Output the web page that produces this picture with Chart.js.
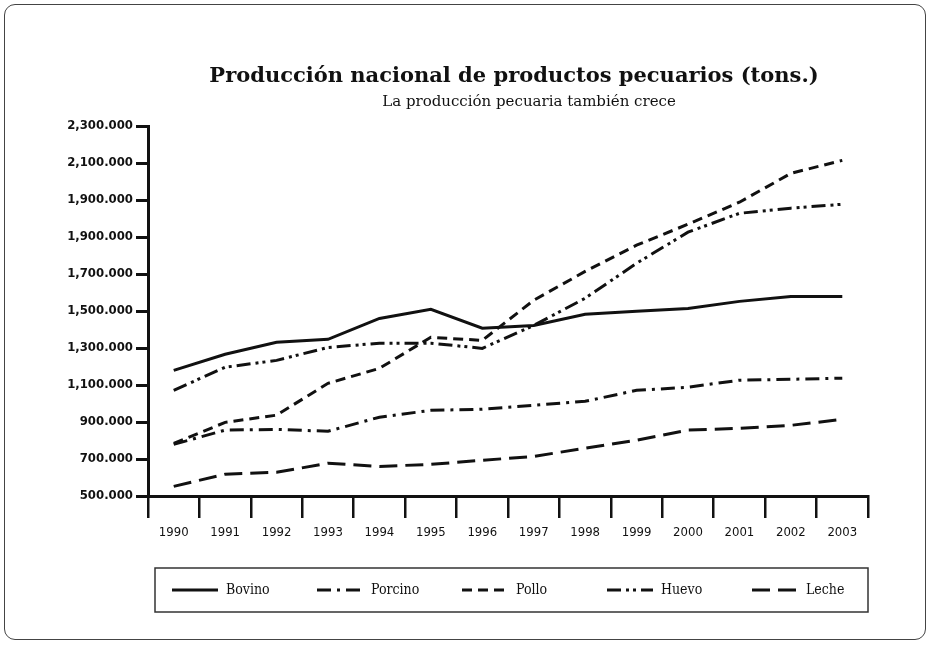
<!DOCTYPE html>
<html>
<head>
<meta charset="utf-8">
<script src="https://cdn.jsdelivr.net/npm/chart.js@4/dist/chart.umd.min.js"></script>
<style>
  html, body { margin: 0; padding: 0; background: #fff; }
  #frame { position: absolute; left: 4px; top: 4px; width: 920px; height: 634px; border: 1.5px solid #444; border-radius: 11px; }
  #wrap { position: absolute; left: 0; top: 0; width: 930px; height: 647px; }
</style>
</head>
<body>
<div id="frame"></div>
<div id="wrap"><canvas id="canvas" width="930" height="647"></canvas></div>
<script>
'use strict';

var titleText = 'Producción nacional de productos pecuarios (tons.)';
var subtitleText = 'La producción pecuaria también crece';

// años (eje x)
var years = ['1990', '1991', '1992', '1993', '1994', '1995', '1996', '1997', '1998', '1999', '2000', '2001', '2002', '2003'];

// etiquetas del eje y tal como aparecen en el original (de abajo hacia arriba, con el 1,900 repetido)
var yTickLabels = ['500.000', '700.000', '900.000', '1,100.000', '1,300.000', '1,500.000', '1,700.000', '1,900.000', '1,900.000', '2,100.000', '2,300.000'];

// miles de toneladas (en la escala de las marcas, 200 por marca)
var bovino  = [1179, 1266, 1331, 1347, 1460, 1509, 1407, 1422, 1482, 1498, 1514, 1552, 1579, 1579];
var porcino = [779, 856, 860, 850, 926, 963, 969, 990, 1012, 1071, 1088, 1126, 1131, 1137];
var pollo   = [784, 898, 937, 1109, 1190, 1358, 1341, 1558, 1714, 1856, 1969, 2088, 2244, 2314];
var huevo   = [1071, 1196, 1233, 1303, 1326, 1326, 1298, 1422, 1569, 1758, 1926, 2028, 2056, 2077];
var leche   = [552, 618, 628, 677, 660, 671, 693, 714, 758, 801, 856, 866, 882, 914];

var ink = '#111';

function serie(label, data, dash) {
    return {
        label: label,
        data: data,
        borderColor: ink,
        backgroundColor: ink,
        borderWidth: 3,
        borderDash: dash,
        borderCapStyle: 'butt',
        pointRadius: 0,
        tension: 0,
        fill: false
    };
}

// título y subtítulo, algo corridos a la derecha como en el original
var titles = {
    id: 'titles',
    afterDraw: function (chart) {
        var ctx = chart.ctx;
        var area = chart.chartArea;
        var cx = (area.left + area.right) / 2;
        ctx.save();
        ctx.fillStyle = ink;
        ctx.textAlign = 'center';
        ctx.textBaseline = 'middle';
        ctx.font = 'bold 21px "DejaVu Serif"';
        ctx.fillText(titleText, cx + 6, area.top - 49);
        ctx.font = '15px "DejaVu Serif"';
        ctx.fillText(subtitleText, cx + 21, area.top - 24);
        ctx.restore();
    }
};

// leyenda dibujada a mano dentro de un recuadro
var legendBox = {
    id: 'legendBox',
    afterDraw: function (chart) {
        var ctx = chart.ctx;
        var area = chart.chartArea;
        var left = area.left + 7, right = area.right;
        var top = area.bottom + 72, bottom = top + 44;
        var cy = (top + bottom) / 2;
        var step = 145;
        ctx.save();
        ctx.strokeStyle = '#333';
        ctx.lineWidth = 1.5;
        ctx.strokeRect(left, top, right - left, bottom - top);
        chart.data.datasets.forEach(function (ds, i) {
            var x = left + step * i + 17;
            ctx.setLineDash(ds.borderDash || []);
            ctx.lineWidth = ds.borderWidth;
            ctx.strokeStyle = ds.borderColor;
            ctx.beginPath();
            ctx.moveTo(x, cy);
            ctx.lineTo(x + 46, cy);
            ctx.stroke();
            ctx.setLineDash([]);
            ctx.fillStyle = ink;
            ctx.font = '14px "DejaVu Serif Condensed"';
            ctx.textBaseline = 'middle';
            ctx.fillText(ds.label, x + 54, cy);
        });
        ctx.restore();
    }
};

var ctx = document.getElementById('canvas').getContext('2d');
var myChart = new Chart(ctx, {
    type: 'line',
    data: {
        labels: years,
        datasets: [
            serie('Bovino', bovino, []),
            serie('Porcino', porcino, [14, 6, 3, 6]),
            serie('Pollo', pollo, [10, 6]),
            serie('Huevo', huevo, [14, 5, 3, 4, 3, 5]),
            serie('Leche', leche, [18, 8])
        ]
    },
    options: {
        responsive: false,
        animation: false,
        devicePixelRatio: 1,
        layout: { padding: { left: 0, right: 0, top: 126, bottom: 101 } },
        plugins: {
            legend: { display: false },
            tooltip: { enabled: false },
            title: { display: false }
        },
        scales: {
            x: {
                offset: true,
                grid: { offset: true, drawOnChartArea: false, color: ink, lineWidth: 2.5, tickLength: 22 },
                border: { color: ink, width: 3 },
                ticks: { color: ink, padding: 7, maxRotation: 0, font: { family: '"DejaVu Sans Condensed"', size: 13 } },
                afterFit: function (scale) { scale.height = 50; }
            },
            y: {
                min: 500,
                max: 2500,
                ticks: {
                    stepSize: 200,
                    color: ink,
                    padding: 3,
                    font: { family: '"DejaVu Sans Condensed"', size: 13, weight: 'bold' },
                    callback: function (value, index) { return yTickLabels[index]; }
                },
                grid: { drawOnChartArea: false, color: ink, lineWidth: 3, tickLength: 12 },
                border: { color: ink, width: 3 },
                afterFit: function (scale) { scale.width = 148; }
            },
            yr: {
                position: 'right',
                display: true,
                grid: { display: false },
                border: { display: false },
                ticks: { display: false },
                afterFit: function (scale) { scale.width = 62; }
            }
        }
    },
    plugins: [titles, legendBox]
});
</script>
</body>
</html>
